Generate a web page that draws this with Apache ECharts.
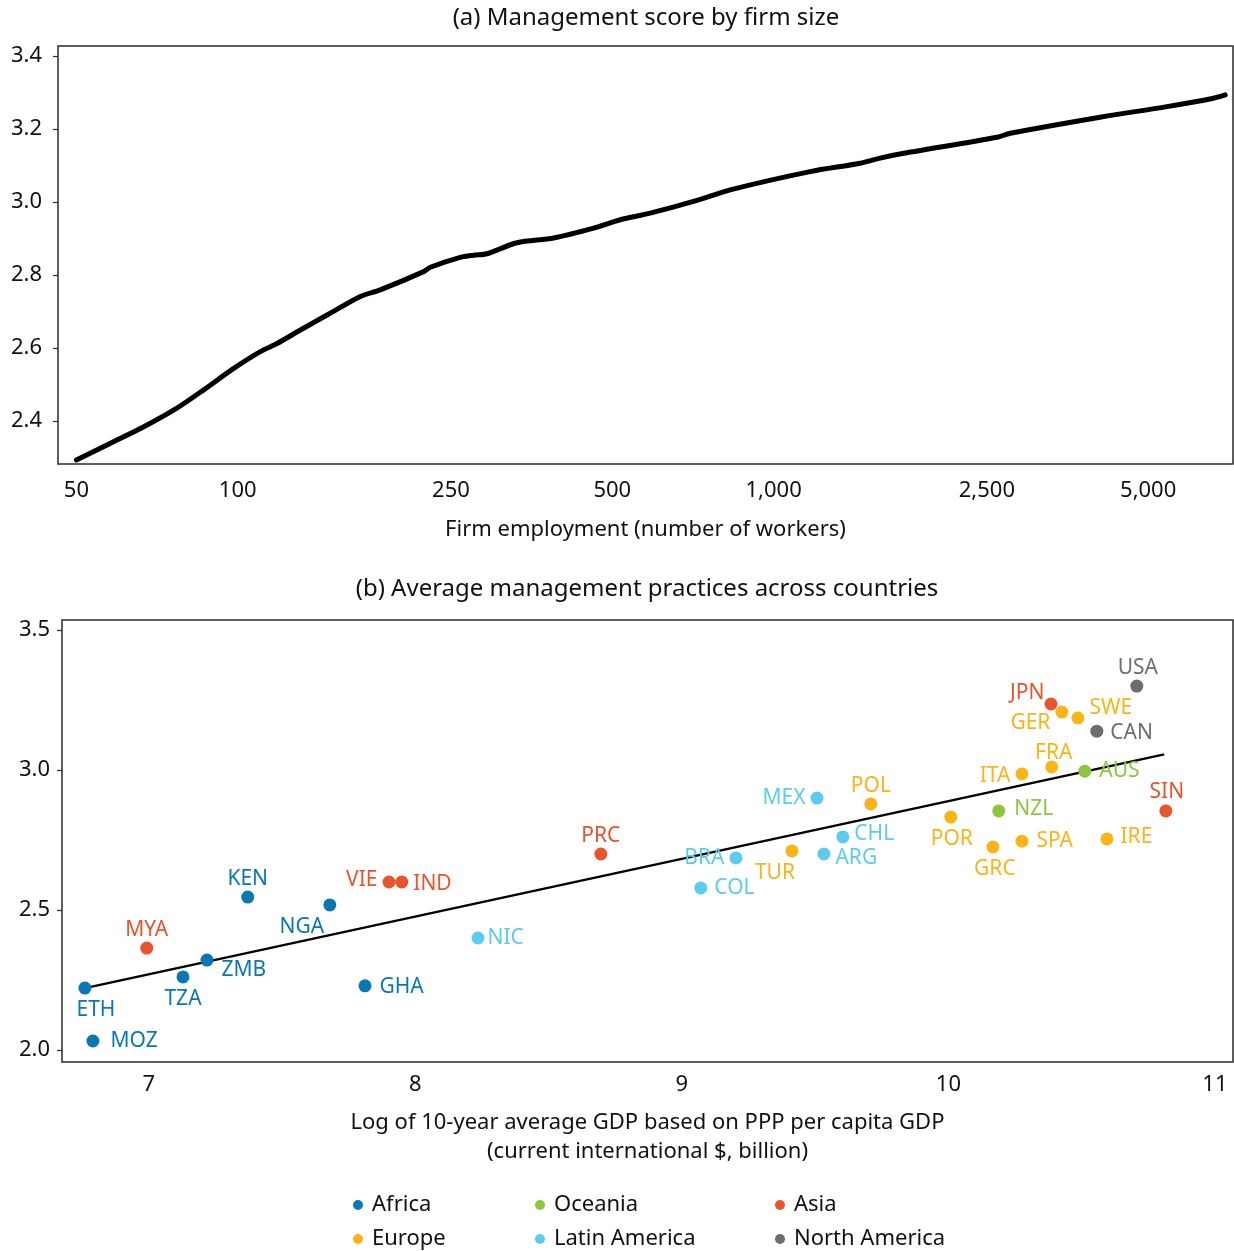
<!DOCTYPE html>
<html>
<head>
<meta charset="utf-8">
<script src="https://cdn.jsdelivr.net/npm/echarts@6/dist/echarts.min.js"></script>
<style>
html,body{margin:0;padding:0;background:#fff;}
#chart{width:1234px;height:1251px;}
</style>
</head>
<body>
<div id="chart"></div>
<script>
// ---------- Panel (a) data ----------
const employment = [50, 57.9, 66.8, 77.0, 86.4, 98.3, 110.2, 118.4, 130.9, 146.8, 169.4, 184.5, 222.3, 228.8, 260.2, 275.6, 291.9, 332.1, 388.7, 461.5, 517.5, 588.6, 719.6, 830, 1170, 1450, 1581, 1750, 2611, 2764, 4068, 5420, 6620, 6961];
const mgmtScoreBySize = [2.293, 2.339, 2.384, 2.435, 2.485, 2.544, 2.590, 2.612, 2.649, 2.690, 2.741, 2.759, 2.809, 2.821, 2.848, 2.854, 2.858, 2.888, 2.901, 2.928, 2.951, 2.969, 3.004, 3.033, 3.083, 3.106, 3.120, 3.133, 3.177, 3.188, 3.232, 3.261, 3.284, 3.293];
const xTicksA = [50, 100, 250, 500, 1000, 2500, 5000];
const yTicksA = [2.4, 2.6, 2.8, 3.0, 3.2, 3.4];

// ---------- Panel (b) data ----------
const countries = ['ETH','MOZ','MYA','TZA','ZMB','KEN','NGA','GHA','VIE','IND','NIC','PRC','COL','BRA','TUR','MEX','ARG','CHL','POL','POR','GRC','NZL','ITA','SPA','JPN','FRA','GER','SWE','AUS','CAN','IRE','USA','SIN'];
const logGdp = [6.760, 6.790, 6.992, 7.128, 7.218, 7.371, 7.679, 7.811, 7.901, 7.949, 8.235, 8.696, 9.071, 9.203, 9.413, 9.507, 9.533, 9.604, 9.709, 10.009, 10.167, 10.189, 10.276, 10.276, 10.385, 10.388, 10.426, 10.486, 10.512, 10.557, 10.595, 10.707, 10.816];
const mgmtScore = [2.221, 2.032, 2.364, 2.261, 2.321, 2.546, 2.518, 2.229, 2.600, 2.600, 2.400, 2.700, 2.579, 2.686, 2.711, 2.900, 2.700, 2.761, 2.879, 2.832, 2.725, 2.854, 2.986, 2.746, 3.236, 3.011, 3.207, 3.186, 2.996, 3.139, 2.754, 3.300, 2.854];
const countryRegion = ['Africa','Africa','Asia','Africa','Africa','Africa','Africa','Africa','Asia','Asia','Latin America','Asia','Latin America','Latin America','Europe','Latin America','Latin America','Latin America','Europe','Europe','Europe','Oceania','Europe','Europe','Asia','Europe','Europe','Europe','Oceania','North America','Europe','North America','Asia'];
const regions = ['Africa','Europe','Oceania','Latin America','Asia','North America'];
const trendX = [6.76, 10.81];
const trendY = [2.221, 3.056];
const xTicksB = [7, 8, 9, 10, 11];
const yTicksB = [2.0, 2.5, 3.0, 3.5];

// ---------- Styles ----------
const FONT = "'Noto Sans', 'DejaVu Sans', sans-serif";
const regionColor = {
  'Africa': '#0a77b5',
  'Oceania': '#8dc63f',
  'Asia': '#e8542c',
  'Europe': '#fbb417',
  'Latin America': '#5dcbee',
  'North America': '#6c6d70'
};
// label placement (style only)
const labelPlace = {
  ETH:['bottom',[11,0]], MOZ:['right',[6,0]], MYA:['top',[0,0]], TZA:['bottom',[0,0]],
  ZMB:['right',[3,10]], KEN:['top',[0,0]], NGA:['bottom',[-28,0]], GHA:['right',[3,1]],
  VIE:['left',[0,-2]], IND:['right',[0,2]], NIC:['right',[-2,0]], PRC:['top',[0,0]],
  COL:['right',[2,0]], BRA:['left',[0,0]], TUR:['bottom',[-17,0]], MEX:['left',[0,0]],
  ARG:['right',[0,4]], CHL:['right',[0,-3]], POL:['top',[0,0]], POR:['bottom',[1,0]],
  GRC:['bottom',[2,0]], NZL:['right',[4,-2]], ITA:['left',[0,2]], SPA:['right',[3,0]],
  JPN:['left',[5,-11]], FRA:['top',[2,4]], GER:['left',[0,11]], SWE:['right',[0,-10]],
  AUS:['right',[3,0]], CAN:['right',[2,2]], IRE:['right',[2,-2]], USA:['top',[1,0]],
  SIN:['top',[1,-1]]
};
// legend slot placement (style only): [left, top]
const legendSlot = {
  'Africa': [348, 1189], 'Oceania': [530, 1189], 'Asia': [770, 1189],
  'Europe': [348, 1223], 'Latin America': [530, 1223], 'North America': [770, 1223]
};

const scatterSeries = regions.map(function (r) {
  const data = [];
  countries.forEach(function (c, i) {
    if (countryRegion[i] !== r) return;
    const p = labelPlace[c];
    data.push({
      name: c,
      value: [logGdp[i], mgmtScore[i]],
      label: { position: p[0], offset: p[1], distance: p[0] === 'top' ? 1 : 5 }
    });
  });
  return {
    name: r,
    type: 'scatter',
    xAxisIndex: 1, yAxisIndex: 1,
    symbol: 'circle',
    symbolSize: 13,
    itemStyle: { color: regionColor[r], opacity: 1 },
    label: { show: true, formatter: '{b}', color: regionColor[r], fontFamily: FONT, fontSize: 21 },
    emphasis: { disabled: true },
    z: 5,
    data: data
  };
});

const legends = regions.map(function (r) {
  return {
    orient: 'horizontal', left: legendSlot[r][0], top: legendSlot[r][1],
    itemWidth: 18, itemHeight: 10, icon: 'circle', selectedMode: false,
    textStyle: { color: '#111', fontFamily: FONT, fontSize: 22 },
    data: [r]
  };
});

const axisTxt = { color: '#111', fontFamily: FONT, fontSize: 22 };

const option = {
  animation: false,
  backgroundColor: '#fff',
  textStyle: { fontFamily: FONT },
  graphic: [
    { type: 'text', x: 646, y: 18, style: { text: '(a) Management score by firm size', textAlign: 'center', textVerticalAlign: 'middle', font: "24px 'Noto Sans'", fill: '#111' } },
    { type: 'text', x: 647, y: 589, style: { text: '(b) Average management practices across countries', textAlign: 'center', textVerticalAlign: 'middle', font: "24px 'Noto Sans'", fill: '#111' } }
  ],
  grid: [
    { left: 58, top: 46, width: 1175, height: 418, show: true, borderColor: '#2a2a2a', borderWidth: 1.5, backgroundColor: 'transparent' },
    { left: 62, top: 620, width: 1171, height: 442, show: true, borderColor: '#2a2a2a', borderWidth: 1.5, backgroundColor: 'transparent' }
  ],
  xAxis: [
    {
      gridIndex: 0, type: 'log', logBase: 10, min: 46.2, max: 7199,
      axisLine: { show: false }, axisTick: { show: false, customValues: xTicksA }, splitLine: { show: false }, minorTick: { show: false },
      axisLabel: Object.assign({ margin: 16, customValues: xTicksA, formatter: function (v) { return Math.round(v).toLocaleString('en-US'); } }, axisTxt),
      name: 'Firm employment (number of workers)', nameLocation: 'middle', nameGap: 55,
      nameTextStyle: axisTxt
    },
    {
      gridIndex: 1, type: 'value', min: 6.674, max: 11.068,
      axisLine: { show: false }, axisTick: { show: false, customValues: xTicksB }, splitLine: { show: false },
      axisLabel: Object.assign({ margin: 12, customValues: xTicksB, formatter: function (v) { return String(Math.round(v)); } }, axisTxt),
      name: 'Log of 10-year average GDP based on PPP per capita GDP\n(current international $, billion)', nameLocation: 'middle', nameGap: 46,
      nameTextStyle: Object.assign({ lineHeight: 29 }, axisTxt)
    }
  ],
  yAxis: [
    {
      gridIndex: 0, type: 'value', min: 2.282, max: 3.427,
      axisLine: { show: false }, splitLine: { show: false },
      axisTick: { show: true, length: 5, customValues: yTicksA, lineStyle: { color: '#2a2a2a', width: 1.2 } },
      axisLabel: Object.assign({ margin: 16, customValues: yTicksA, formatter: function (v) { return v.toFixed(1); } }, axisTxt)
    },
    {
      gridIndex: 1, type: 'value', min: 1.957, max: 3.536,
      axisLine: { show: false }, splitLine: { show: false },
      axisTick: { show: true, length: 5, customValues: yTicksB, lineStyle: { color: '#2a2a2a', width: 1.2 } },
      axisLabel: Object.assign({ margin: 12, customValues: yTicksB, formatter: function (v) { return v.toFixed(1); } }, axisTxt)
    }
  ],
  legend: legends,
  series: [
    {
      name: 'Management score', type: 'line', xAxisIndex: 0, yAxisIndex: 0,
      data: employment.map(function (e, i) { return [e, mgmtScoreBySize[i]]; }),
      showSymbol: false, symbol: 'none', smooth: 0.3,
      lineStyle: { color: '#000', width: 5, cap: 'round', join: 'round' },
      emphasis: { disabled: true }
    },
    {
      name: 'Trend', type: 'line', xAxisIndex: 1, yAxisIndex: 1,
      data: trendX.map(function (x, i) { return [x, trendY[i]]; }),
      symbol: 'none', lineStyle: { color: '#000', width: 2.5 }, z: 3,
      emphasis: { disabled: true }
    }
  ].concat(scatterSeries)
};

const chart = echarts.init(document.getElementById('chart'), null, { renderer: 'canvas' });
chart.setOption(option);
</script>
</body>
</html>
